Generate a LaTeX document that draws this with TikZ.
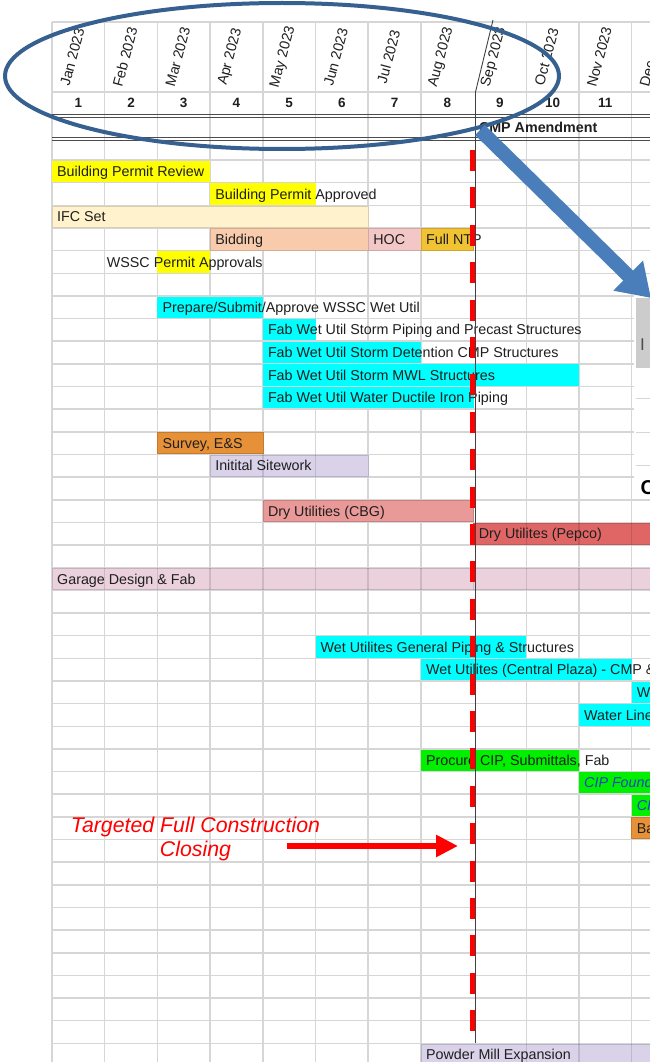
\documentclass[tikz,border=0pt]{standalone}
\usepackage{fontspec}
\setmainfont{Liberation Sans}
\usetikzlibrary{arrows.meta}
\definecolor{gridc}{HTML}{D6D6D6}
\definecolor{ybar}{HTML}{FFFF00}
\definecolor{cream}{HTML}{FFF2CC}
\definecolor{peach}{HTML}{F8CBAD}
\definecolor{hocpink}{HTML}{F4C7C7}
\definecolor{gold}{HTML}{F1C232}
\definecolor{cyanbar}{HTML}{00FFFF}
\definecolor{orangebar}{HTML}{E69138}
\definecolor{lav}{HTML}{D9D2E9}
\definecolor{salmon}{HTML}{EA9999}
\definecolor{redbar}{HTML}{E06666}
\definecolor{garage}{HTML}{EAD1DC}
\definecolor{greenbar}{HTML}{00F000}
\definecolor{cipblue}{HTML}{2040C8}
\definecolor{ellc}{HTML}{36608F}
\definecolor{arrc}{HTML}{4A7EBB}
\newcommand\gbar[4]{\path[#1] ({52+52.7*#2},{160.6+22.65*#4}) rectangle ({52+52.7*#3},{181.9+22.65*#4});}
\newcommand\gtxt[5]{\node[lbl,#1] (#2) at ({52+52.7*#3+5.2},{176.4+22.65*#4}) {#5};}
\begin{document}
\begin{tikzpicture}[x=1pt,y=-1pt,
  gridline/.style={draw=gridc, line width=1.5pt},
  darkline/.style={draw=black!70, line width=0.9pt},
  lbl/.style={anchor=base west, inner sep=0pt, outer sep=0pt, text=black!88, font=\fontsize{14.3}{16}\selectfont},
  month/.style={rotate=75, inner sep=0pt, text=black!88, font=\fontsize{14.3}{16}\selectfont},
  num/.style={anchor=base, inner sep=0pt, text=black!88, font=\bfseries\fontsize{13.5}{15}\selectfont},
  cip/.style={text=cipblue, font=\itshape\fontsize{14.3}{16}\selectfont},
  inner/.style={draw=black, draw opacity=0.12, line width=1.5pt},
  note/.style={anchor=base, inner sep=0pt, text=red, font=\itshape\fontsize{21.3}{24}\selectfont}]
\useasboundingbox (0,0) rectangle (650,1062);
\fill[white] (0,0) rectangle (650,1062);
% grid
\foreach \r in {0,...,39} \draw[gridline] (52,{160+22.65*\r}) -- (650,{160+22.65*\r});
\foreach \k in {0,1,2,3,4,5,6,7,9,10,11} \draw[gridline] ({52+52.7*\k},22) -- ({52+52.7*\k},1062);
\draw[gridline] (52,22) -- (650,22);
\draw[gridline] (52,92) -- (650,92);
\draw[darkline] (52,114.8) -- (650,114.8);
\draw[darkline] (52,117.6) -- (650,117.6);
\draw[darkline] (52,137.3) -- (650,137.3);
\draw[darkline] (52,140.1) -- (650,140.1);
% header
\foreach \k/\m in {1/Jan,2/Feb,3/Mar,4/Apr,5/May,6/Jun,7/Jul,8/Aug,9/Sep,10/Oct,11/Nov}
  \node[month] (m\k) at ({52+52.7*(\k-0.5)-6},57) {\m\ 2023};
\node[month] (m12) at (647.5,74) {Dec};
\foreach \k in {1,...,11} \node[num] (n\k) at ({52+52.7*(\k-0.5)},108) {\k};
\node[lbl, font=\bfseries\fontsize{14.3}{16}\selectfont] (cmp) at (479,132.5) {CMP Amendment};
% bars
\gbar{fill=ybar}{0}{3}{0}
\gbar{fill=ybar}{3}{5}{1}
\gbar{fill=cream,draw=cream!85!black,line width=0.6pt}{0}{6}{2}
\gbar{fill=peach,draw=peach!85!black,line width=0.6pt}{3}{6}{3}
\gbar{fill=hocpink,draw=hocpink!85!black,line width=0.6pt}{6}{7}{3}
\gbar{fill=gold,draw=gold!85!black,line width=0.6pt}{7}{8}{3}
\gbar{fill=ybar}{2}{3}{4}
\gbar{fill=cyanbar}{2}{4}{6}
\gbar{fill=cyanbar}{4}{5}{7}
\gbar{fill=cyanbar}{4}{7}{8}
\gbar{fill=cyanbar}{4}{10}{9}
\gbar{fill=cyanbar}{4}{8}{10}
\gbar{fill=orangebar,draw=orangebar!85!black,line width=0.6pt}{2}{4}{12}
\gbar{fill=lav,draw=lav!85!black,line width=0.6pt}{3}{6}{13}
\gbar{fill=salmon,draw=salmon!85!black,line width=0.6pt}{4}{8}{15}
\gbar{fill=redbar,draw=redbar!85!black,line width=0.6pt}{8}{12.5}{16}
\gbar{fill=garage,draw=garage!85!black,line width=0.6pt}{0}{12.5}{18}
\gbar{fill=cyanbar}{5}{9}{21}
\gbar{fill=cyanbar}{7}{11}{22}
\gbar{fill=cyanbar}{11}{12.5}{23}
\gbar{fill=cyanbar}{10}{12.5}{24}
\gbar{fill=greenbar}{7}{10}{26}
\gbar{fill=greenbar}{10}{12.5}{27}
\gbar{fill=greenbar}{11}{12.5}{28}
\gbar{fill=orangebar,draw=orangebar!85!black,line width=0.6pt}{11}{12.5}{29}
\gbar{fill=lav,draw=lav!85!black,line width=0.6pt}{7}{12.5}{39}
% faint cell borders inside some bars
\foreach \k in {1,...,11} \draw[inner] ({52+52.7*\k},{160+22.65*18}) -- ({52+52.7*\k},{160+22.65*19});
\foreach \k in {4,5} \draw[inner] ({52+52.7*\k},{160+22.65*13}) -- ({52+52.7*\k},{160+22.65*14});
\foreach \k in {9,10,11} \draw[inner] ({52+52.7*\k},{160+22.65*16}) -- ({52+52.7*\k},{160+22.65*17});
\foreach \k in {9,10,11} \draw[inner] ({52+52.7*\k},{160+22.65*39}) -- ({52+52.7*\k},1062);
% texts
\gtxt{}{t0}{0}{0}{Building Permit Review}
\gtxt{}{t1}{3}{1}{Building Permit Approved}
\gtxt{}{t2}{0}{2}{IFC Set}
\gtxt{}{t3a}{3}{3}{Bidding}
\gtxt{}{t3b}{6}{3}{HOC}
\gtxt{}{t3c}{7}{3}{Full NTP}
\gtxt{xshift=-3pt}{t4}{1}{4}{WSSC Permit Approvals}
\gtxt{}{t6}{2}{6}{Prepare/Submit/Approve WSSC Wet Util}
\gtxt{}{t7}{4}{7}{Fab Wet Util Storm Piping and Precast Structures}
\gtxt{}{t8}{4}{8}{Fab Wet Util Storm Detention CMP Structures}
\gtxt{}{t9}{4}{9}{Fab Wet Util Storm MWL Structures}
\gtxt{}{t10}{4}{10}{Fab Wet Util Water Ductile Iron Piping}
\gtxt{}{t12}{2}{12}{Survey, E\&S}
\gtxt{}{t13}{3}{13}{Initital Sitework}
\gtxt{}{t15}{4}{15}{Dry Utilities (CBG)}
\gtxt{}{t16}{8}{16}{Dry Utilites (Pepco)}
\gtxt{}{t18}{0}{18}{Garage Design \& Fab}
\gtxt{}{t21}{5}{21}{Wet Utilites General Piping \& Structures}
\gtxt{}{t22}{7}{22}{Wet Utilites (Central Plaza) - CMP \&}
\gtxt{}{t23}{11}{23}{W}
\gtxt{}{t24}{10}{24}{Water Line}
\gtxt{}{t26}{7}{26}{Procure CIP, Submittals, Fab}
\gtxt{cip}{t27}{10}{27}{CIP Found}
\gtxt{cip}{t28}{11}{28}{CI}
\gtxt{}{t29}{11}{29}{Ba}
\gtxt{}{t39}{7}{39}{Powder Mill Expansion}
% status lines
\draw[black!75, line width=1.3pt] (475.5,92) -- (475.5,1043);
\draw[black!75, line width=0.9pt] (475.5,92) -- (493,20);
\draw[red, line width=4.5pt, dash pattern=on 21pt off 16.4pt] (472.5,150) -- (472.5,1043);
% inset at right edge
\fill[white] (634,283) rectangle (650,499);
\fill[black!20] (636,298) rectangle (650,368);
\draw[gridc, line width=1pt] (636,398) -- (650,398);
\draw[gridc, line width=1pt] (636,432) -- (650,432);
\draw[gridc, line width=1pt] (636,465) -- (650,465);
\node[anchor=base west, inner sep=0pt, text=black!70, font=\fontsize{17}{19}\selectfont] (ins1) at (640,350) {I};
\node[anchor=base west, inner sep=0pt, font=\bfseries\fontsize{20}{22}\selectfont] (ins2) at (640.5,494) {C};
% annotation
\node[note] (tgt1) at (195.5,832.5) {Targeted Full Construction};
\node[note] (tgt2) at (195.5,856) {Closing};
\coordinate (ra1) at (287,846);
\coordinate (ra2) at (458,846);
\draw[red, line width=6pt, -{Triangle[length=22pt,width=21pt]}] (ra1) -- (ra2);
% ellipse and arrow
\draw[ellc, line width=4pt] (282,76) ellipse [x radius=277pt, y radius=73pt];
\coordinate (ba1) at (480,130);
\coordinate (ba2) at (651,298);
\draw[arrc, line width=14pt, -{Triangle[length=32pt,width=40pt]}] (ba1) -- (ba2);
\end{tikzpicture}
\end{document}
